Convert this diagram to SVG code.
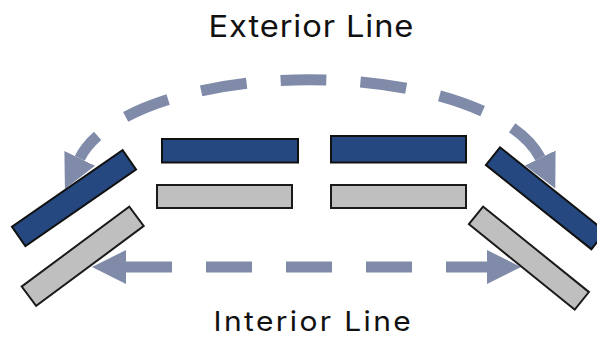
<svg xmlns="http://www.w3.org/2000/svg" width="597" height="337" viewBox="0 0 597 337">
  <style>
    .blue { fill: #24487f; stroke: #111; stroke-width: 2; }
    .gray { fill: #bfbfbf; stroke: #1a1a1a; stroke-width: 2; }
    .flow { fill: none; stroke: #7f8ba8; stroke-width: 11; stroke-dasharray: 46 34; }
    .label { font-family: "Inter", "DejaVu Sans", sans-serif; fill: #111; }
  </style>
  <defs>
    <marker id="head" markerUnits="userSpaceOnUse" markerWidth="40" markerHeight="40" viewBox="0 -20 40 40" refX="0" refY="0" orient="auto-start-reverse">
      <path d="M0,-17 L34,0 L0,17 Z" fill="#7f8ba8"/>
    </marker>
  </defs>

  <!-- connectors -->
  <g id="connectors">
    <path id="exterior-line" class="flow" d="M79.7,158.3 A235,98 0 0 1 540.3,158" stroke-dashoffset="17" marker-start="url(#head)" marker-end="url(#head)"/>
    <path id="interior-line" class="flow" d="M126,267 H487" marker-start="url(#head)" marker-end="url(#head)"/>
  </g>

  <!-- outer (blue) row -->
  <g id="outer-left"><rect class="blue" x="-67.3" y="-11.8" width="134.6" height="23.6" transform="translate(74,198.2) rotate(-34.7)"/></g>
  <g id="outer-mid-left"><rect class="blue" x="162" y="139" width="136" height="23.5"/></g>
  <g id="outer-mid-right"><rect class="blue" x="331" y="136" width="135" height="26.5"/></g>
  <g id="outer-right"><rect class="blue" x="-67.5" y="-11.3" width="135" height="22.6" transform="translate(545.7,198.3) rotate(38.6)"/></g>

  <!-- inner (gray) row -->
  <g id="inner-left"><rect class="gray" x="-67" y="-12.1" width="134" height="24.2" transform="translate(82.7,256.3) rotate(-36.6)"/></g>
  <g id="inner-mid-left"><rect class="gray" x="157" y="185" width="135" height="23"/></g>
  <g id="inner-mid-right"><rect class="gray" x="331" y="185" width="135" height="23"/></g>
  <g id="inner-right"><rect class="gray" x="-68" y="-11.3" width="136" height="22.6" transform="translate(528.9,258.1) rotate(38.9)"/></g>

  <!-- labels: glyphs widened slightly for a broader face -->
  <g id="labels">
    <text class="label" font-size="30" textLength="188" lengthAdjust="spacing" transform="translate(208.5,37) scale(1.09,1)">Exterior Line</text>
    <text class="label" font-size="27.5" textLength="181" lengthAdjust="spacing" transform="translate(213.5,330.5) scale(1.09,1)">Interior Line</text>
  </g>
</svg>
